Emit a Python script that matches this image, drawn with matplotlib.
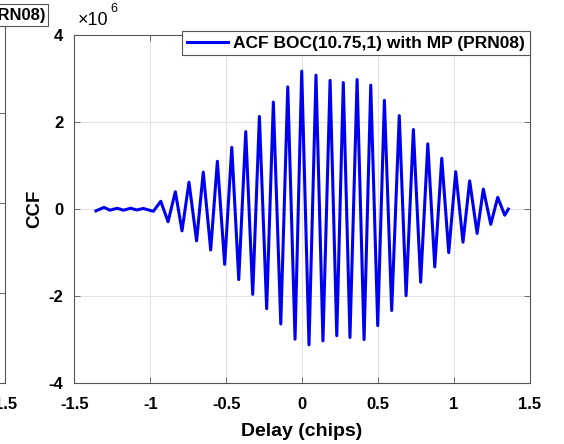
import matplotlib

matplotlib.use("Agg")
import matplotlib.pyplot as plt
import numpy as np

# ACF of BOC(10.75,1) with multipath, extrema
delay = [
    -1.358, -1.305, -1.266, -1.218, -1.178, -1.129, -1.090, -1.046, -0.980,
    -0.931, -0.883, -0.835, -0.791, -0.745, -0.695, -0.651, -0.602, -0.558,
    -0.510, -0.463, -0.417, -0.371, -0.325, -0.281, -0.233, -0.189, -0.140,
    -0.094, -0.046, -0.002, 0.046, 0.092, 0.138, 0.185, 0.229, 0.272, 0.316,
    0.363, 0.409, 0.453, 0.499, 0.543, 0.591, 0.641, 0.686, 0.734, 0.782,
    0.829, 0.875, 0.921, 0.967, 1.013, 1.061, 1.105, 1.154, 1.195, 1.244,
    1.290, 1.336, 1.360,
]
ccf = [
    -0.05, 0.03, -0.035, 0.01, -0.035, 0.01, -0.03, 0.005, -0.06,
    0.17, -0.30, 0.39, -0.51, 0.61, -0.74, 0.84, -0.95, 1.09,
    -1.28, 1.41, -1.63, 1.77, -1.97, 2.12, -2.30, 2.45, -2.65,
    2.80, -3.00, 3.16, -3.13, 3.07, -3.04, 2.95, -2.92, 2.90, -2.96,
    2.97, -3.01, 2.84, -2.69, 2.49, -2.34, 2.14, -2.00, 1.82, -1.69,
    1.49, -1.34, 1.16, -1.01, 0.85, -0.77, 0.64, -0.57, 0.45, -0.36,
    0.26, -0.15, -0.01,
]  # units of 1e6

x_ticks = [-1.5, -1, -0.5, 0, 0.5, 1, 1.5]
x_labels = ["-1.5", "-1", "-0.5", "0", "0.5", "1", "1.5"]
y_ticks = [-4, -2, 0, 2, 4]
y_labels = ["-4", "-2", "0", "2", "4"]
legend_label = "ACF BOC(10.75,1) with MP (PRN08)"

plt.rcParams["font.family"] = ["Liberation Sans", "DejaVu Sans"]
plt.rcParams["font.weight"] = "bold"

SPINE = "#555555"
GRID = "#e2e2e2"
TICK_FS = 12


def style_axes(ax):
    ax.set_xlim(-1.5, 1.5)
    ax.set_ylim(-4, 4)
    ax.grid(True, color=GRID, linewidth=0.7)
    ax.set_axisbelow(True)
    for sp in ax.spines.values():
        sp.set_color(SPINE)
        sp.set_linewidth(0.8)
    ax.tick_params(direction="in", length=4, width=0.6, color=SPINE,
                   top=True, right=True, labelsize=TICK_FS)
    ax.tick_params(axis="x", pad=10)
    ax.tick_params(axis="y", pad=8)


fig = plt.figure(figsize=(5.64, 4.44), dpi=100)

# cut-off neighbour subplot on the left
ax0 = fig.add_axes([-0.798, 0.138, 0.807, 0.81])
style_axes(ax0)
ax0.set_xticks([1.5])
ax0.set_xticklabels(["1.5"])
ax0.set_yticks(y_ticks)
ax0.set_yticklabels([])
fig.text(0.080, 0.966, "ACF BOC(10.75,1) with MP (PRN08)", ha="right", va="center",
         fontsize=12, fontweight="bold",
         bbox=dict(boxstyle="square,pad=0.2", fc="white", ec=SPINE, lw=0.8))

ax = fig.add_axes([0.132, 0.138, 0.807, 0.784])
style_axes(ax)
ax.plot(delay, ccf, color="#0000f0", linewidth=2.2, label=legend_label)
ax.set_xticks(x_ticks)
ax.set_xticklabels(x_labels)
ax.set_yticks(y_ticks)
ax.set_yticklabels(y_labels)
ax.set_xlabel("Delay (chips)", fontsize=14, fontweight="bold", labelpad=8)
ax.set_ylabel("CCF", fontsize=13.5, fontweight="bold", labelpad=4)

# exponent label, drawn like MATLAB's x10^6
ax.text(0.008, 1.015, "\u00d710", transform=ax.transAxes,
        fontsize=13, ha="left", va="bottom", fontweight="normal")
ax.text(0.080, 1.055, "6", transform=ax.transAxes,
        fontsize=9, ha="left", va="bottom", fontweight="normal")

leg = ax.legend(loc="upper right", bbox_to_anchor=(1.0, 1.01), borderaxespad=0,
                fontsize=12.5, frameon=True, fancybox=False, framealpha=1,
                handlelength=2.4, handletextpad=0.3, borderpad=0.25)
leg.get_frame().set_edgecolor(SPINE)
leg.get_frame().set_linewidth(0.8)

fig.savefig("out.png", dpi=100)
